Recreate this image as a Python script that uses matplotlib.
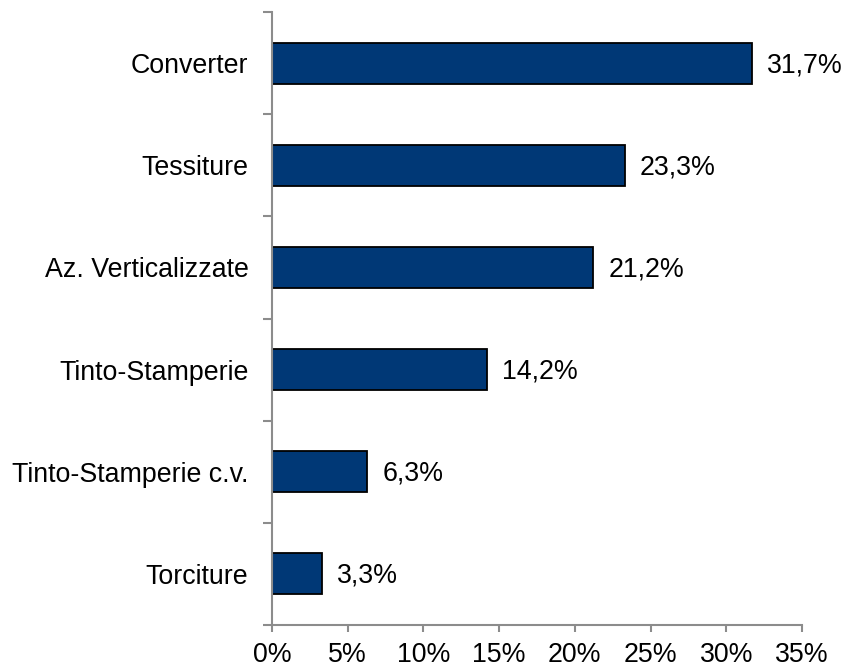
import matplotlib.pyplot as plt
import numpy as np

plt.rcParams['font.family'] = ['Liberation Sans', 'DejaVu Sans']

# data, bottom to top
categories = ['Torciture', 'Tinto-Stamperie c.v.', 'Tinto-Stamperie',
              'Az. Verticalizzate', 'Tessiture', 'Converter']
values = [3.3, 6.3, 14.2, 21.2, 23.3, 31.7]
xticks = [0, 5, 10, 15, 20, 25, 30, 35]

FS = 19.3

fig = plt.figure(figsize=(8.46, 6.70), dpi=100)
ax = fig.add_axes([0.3215, 0.0672, 0.948 - 0.3215, 0.982 - 0.0672])

ypos = np.arange(len(categories))
ax.barh(ypos, values, height=0.4, color='#003876', edgecolor='black', linewidth=1.3)

for y, v in zip(ypos, values):
    ax.annotate(f'{v:.1f}%'.replace('.', ','), (v, y), xytext=(11, -1.5),
                textcoords='offset points', va='center', ha='left', fontsize=FS)

ax.set_xlim(0, 35)
ax.set_ylim(-0.5, len(categories) - 0.5)
ax.set_xticks(xticks)
ax.set_xticklabels([f'{t}%' for t in xticks], fontsize=FS)
ax.set_yticks(ypos)
ax.set_yticklabels(categories, fontsize=FS)
ax.set_yticks(np.arange(len(categories) + 1) - 0.5, minor=True)

gray = '#8c8c8c'
for s in ['top', 'right']:
    ax.spines[s].set_visible(False)
for s in ['left', 'bottom']:
    ax.spines[s].set_color(gray)
    ax.spines[s].set_linewidth(1.5)
ax.tick_params(axis='y', which='major', length=0, pad=17)
ax.tick_params(axis='y', which='minor', length=6.5, width=1.5, color=gray)
ax.tick_params(axis='x', length=5, width=1.5, color=gray, pad=7.5)

fig.savefig('out.png', dpi=100)
